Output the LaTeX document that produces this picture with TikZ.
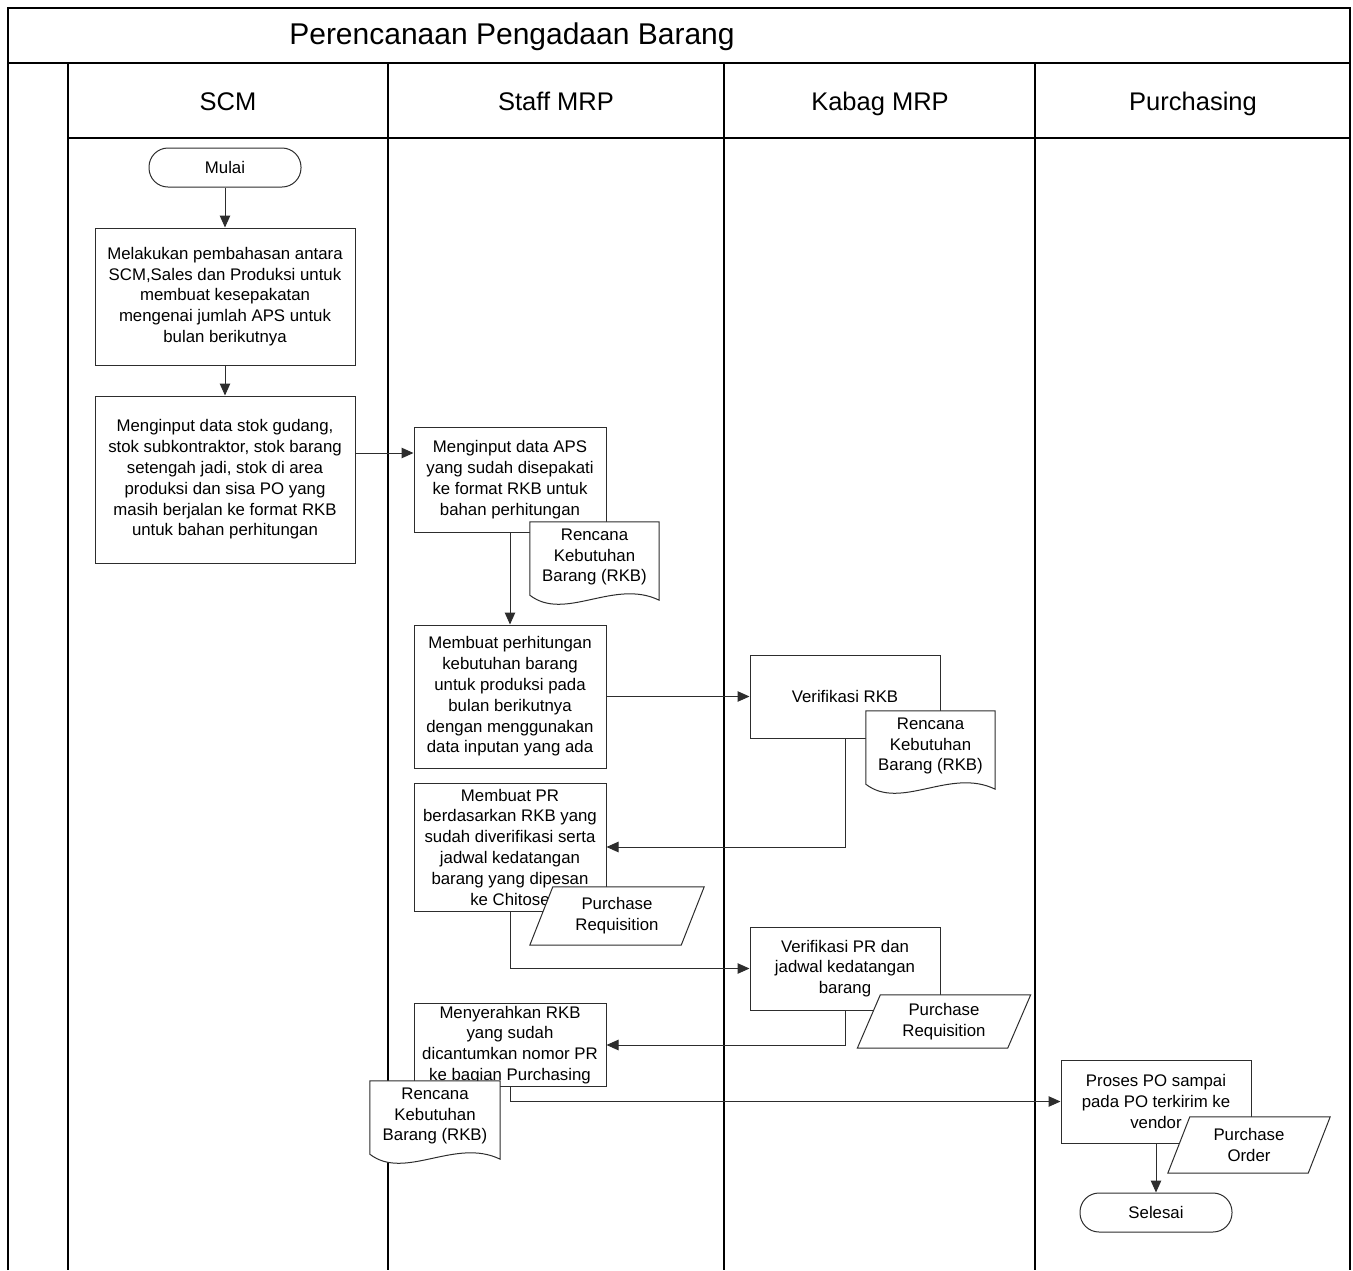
\documentclass[tikz,border=0pt]{standalone}
\usepackage{fontspec}
\setmainfont{Liberation Sans}
\usetikzlibrary{arrows.meta, calc}
\definecolor{garis}{RGB}{45, 45, 45}
% shapes drawn round a plain node
\newcommand{\docshape}[1]{%
  \filldraw[fill=white, draw=garis, line width=1pt] (#1.north west) -- (#1.north east) -- ([yshift=-8pt]#1.south east)
    .. controls ([xshift=-45pt, yshift=14pt]#1.south east) and ([xshift=35pt, yshift=-30pt]#1.south west) .. ([yshift=-3pt]#1.south west) -- cycle;}
\newcommand{\datashape}[2]{%
  \filldraw[fill=white, draw=garis, line width=1pt] ([xshift=-#2]#1.south west) -- ([xshift=#2]#1.north west) -- ([xshift=#2]#1.north east) -- ([xshift=-#2]#1.south east) -- cycle;}
\begin{document}
\begin{tikzpicture}[x=1pt, y=-1pt,
        lane/.style={draw=black, line width=1.2pt},
        kepala/.style={anchor=base, inner sep=0pt, font=\fontsize{25.5}{30}\selectfont},
        proses/.style={draw=garis, line width=1pt, fill=white, align=center, inner sep=2pt, font=\fontsize{16.8}{20.8}\selectfont},
        terminal/.style={proses, rounded corners=19pt, minimum width=152pt, minimum height=39pt},
        dokumen/.style={align=center, inner sep=0pt, font=\fontsize{16.8}{20.8}\selectfont},
        arr/.style={-{Triangle[length=12pt, width=10.5pt]}, draw=garis, line width=1pt}
    ]
    \useasboundingbox (0,0) rectangle (1353,1270);
    % lanes
    \draw[lane] (8,1270) -- (8,8) -- (1350,8) -- (1350,1270);
    \draw[lane] (8,63) -- (1350,63);
    \draw[lane] (68,138) -- (1350,138);
    \foreach \x in {68, 388, 724, 1035}
        \draw[lane] (\x,63) -- (\x,1270);
    \node[kepala, font=\fontsize{30}{36}\selectfont] (judul) at (512,44) {Perencanaan Pengadaan Barang};
    \node[kepala] (scm) at (228,110) {SCM};
    \node[kepala] (staff) at (556,110) {Staff MRP};
    \node[kepala] (kabag) at (880,110) {Kabag MRP};
    \node[kepala] (purch) at (1193,110) {Purchasing};
    % process nodes
    \node[terminal] (mulai) at (225,167.5) {Mulai};
    \node[proses, minimum width=260pt, minimum height=137pt] (bahas) at (225,296.5) {Melakukan pembahasan antara\\SCM,Sales dan Produksi untuk\\membuat kesepakatan\\mengenai jumlah APS untuk\\bulan berikutnya};
    \node[proses, minimum width=260pt, minimum height=167pt] (stok) at (225,479.5) {Menginput data stok gudang,\\stok subkontraktor, stok barang\\setengah jadi, stok di area\\produksi dan sisa PO yang\\masih berjalan ke format RKB\\untuk bahan perhitungan};
    \node[proses, minimum width=192pt, minimum height=105pt] (aps) at (510,479.5) {Menginput data APS\\yang sudah disepakati\\ke format RKB untuk\\bahan perhitungan};
    \node[proses, minimum width=192pt, minimum height=143pt] (hitung) at (510,696.5) {Membuat perhitungan\\kebutuhan barang\\untuk produksi pada\\bulan berikutnya\\dengan menggunakan\\data inputan yang ada};
    \node[proses, minimum width=190pt, minimum height=83pt] (verrkb) at (845,696.5) {Verifikasi RKB};
    \node[proses, minimum width=192pt, minimum height=128pt] (buatpr) at (510,847) {Membuat PR\\berdasarkan RKB yang\\sudah diverifikasi serta\\jadwal kedatangan\\barang yang dipesan\\ke Chitose};
    \node[proses, minimum width=190pt, minimum height=83pt] (verpr) at (845,968.5) {Verifikasi PR dan\\jadwal kedatangan\\barang};
    \node[proses, minimum width=192pt, minimum height=82pt] (serah) at (510,1045) {Menyerahkan RKB\\yang sudah\\dicantumkan nomor PR\\ke bagian Purchasing};
    \node[proses, minimum width=190pt, minimum height=83pt] (prosespo) at (1156,1101.5) {Proses PO sampai\\pada PO terkirim ke\\vendor};
    \node[terminal] (selesai) at (1156,1212.5) {Selesai};
    % connectors
    \draw[arr] (mulai) -- (bahas);
    \draw[arr] (bahas) -- (stok);
    \draw[arr] ([yshift=26.5pt]stok.east) -- ([yshift=26.5pt]aps.west);
    \draw[arr] (aps) -- (hitung);
    \draw[arr] (hitung) -- (verrkb);
    \draw[arr] (verrkb.south) |- (buatpr.east);
    \draw[arr] (buatpr.south) |- (verpr.west);
    \draw[arr] (verpr.south) |- (serah.east);
    \draw[arr] (serah.south) |- (prosespo.west);
    \draw[arr] (prosespo) -- (selesai);
    % documents
    \node[dokumen, minimum width=129pt, minimum height=70pt] (rkba) at (594.5,557) {};
    \docshape{rkba}
    \node[dokumen] at (rkba) {Rencana\\Kebutuhan\\Barang (RKB)};
    \node[dokumen, minimum width=129pt, minimum height=70pt] (rkbb) at (930.5,746) {};
    \docshape{rkbb}
    \node[dokumen] at (rkbb) {Rencana\\Kebutuhan\\Barang (RKB)};
    \node[dokumen, minimum width=130pt, minimum height=70pt] (rkbc) at (435,1116) {};
    \docshape{rkbc}
    \node[dokumen] at (rkbc) {Rencana\\Kebutuhan\\Barang (RKB)};
    % data
    \node[dokumen, minimum width=151pt, minimum height=58pt] (pra) at (617,916) {};
    \datashape{pra}{11.5pt}
    \node[dokumen] at (pra) {Purchase\\Requisition};
    \node[dokumen, minimum width=150pt, minimum height=53pt] (prb) at (944,1021.5) {};
    \datashape{prb}{11.5pt}
    \node[dokumen] at (prb) {Purchase\\Requisition};
    \node[dokumen, minimum width=140pt, minimum height=56pt] (po) at (1249,1145) {};
    \datashape{po}{11pt}
    \node[dokumen] at (po) {Purchase\\Order};
\end{tikzpicture}
\end{document}
